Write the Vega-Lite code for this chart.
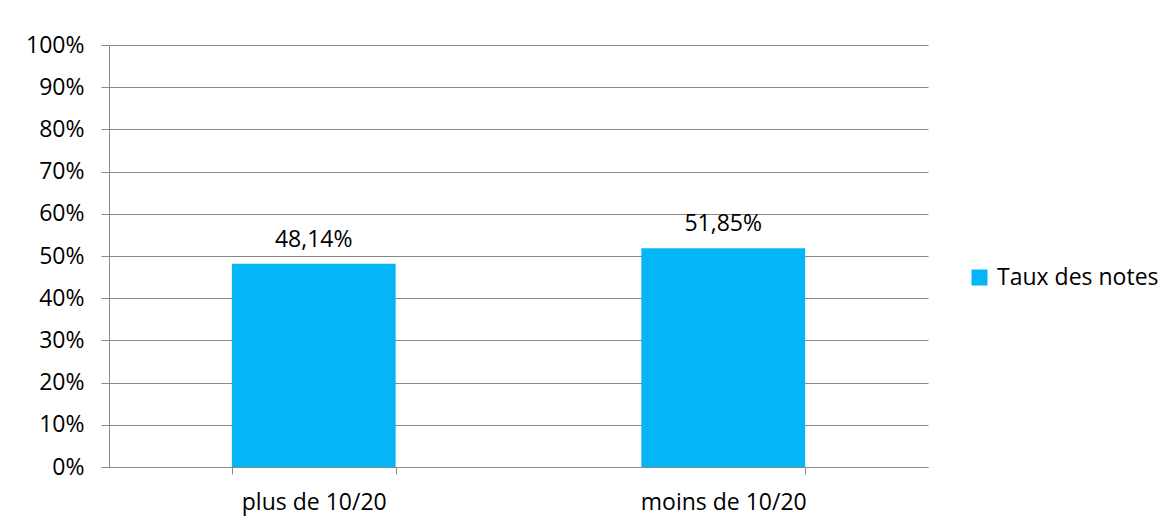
{
  "$schema": "https://vega.github.io/schema/vega-lite/v6.json",
  "width": 819,
  "height": 422,
  "autosize": {"type": "none"},
  "padding": {"left": 109, "top": 45, "right": 239, "bottom": 58},
  "background": "white",
  "data": {
    "values": [
      {"categorie": "plus de 10/20", "taux": 0.4814, "serie": "Taux des notes"},
      {"categorie": "moins de 10/20", "taux": 0.5185, "serie": "Taux des notes"}
    ]
  },
  "encoding": {
    "x": {
      "field": "categorie",
      "type": "nominal",
      "sort": null,
      "scale": {"paddingInner": 0.6, "paddingOuter": 0.3},
      "axis": {
        "title": null,
        "labelAngle": 0,
        "tickBand": "extent",
        "tickSize": 7,
        "labelPadding": 17,
        "domainColor": "#888888",
        "tickColor": "#888888"
      }
    },
    "y": {
      "field": "taux",
      "type": "quantitative",
      "scale": {"domain": [0, 1]},
      "axis": {
        "title": null,
        "format": ".0%",
        "values": [0, 0.1, 0.2, 0.3, 0.4, 0.5, 0.6, 0.7, 0.8, 0.9, 1],
        "tickSize": 8,
        "labelPadding": 17,
        "grid": true,
        "gridColor": "#888888",
        "domainColor": "#888888",
        "tickColor": "#888888"
      }
    }
  },
  "layer": [
    {
      "mark": {"type": "bar", "color": "#04B6F5"},
      "encoding": {
        "color": {
          "field": "serie",
          "type": "nominal",
          "scale": {"range": ["#04B6F5"]},
          "legend": {
            "title": null,
            "orient": "none",
            "legendX": 859,
            "legendY": 221,
            "symbolType": "square",
            "symbolSize": 256,
            "symbolStrokeWidth": 0,
            "labelOffset": 6,
            "labelLimit": 400
          }
        }
      }
    },
    {
      "mark": {"type": "text", "baseline": "alphabetic", "dy": -17, "color": "black"},
      "encoding": {
        "text": {"field": "taux", "type": "quantitative", "format": ".2%"}
      }
    }
  ],
  "config": {
    "locale": {
      "number": {"decimal": ",", "thousands": " ", "grouping": [3], "currency": ["", " €"]}
    },
    "font": "Open Sans",
    "view": {"stroke": null},
    "axis": {"labelFont": "Open Sans", "labelFontSize": 23, "labelColor": "black"},
    "legend": {"labelFont": "Open Sans", "labelFontSize": 23, "labelColor": "black"},
    "text": {"font": "Open Sans", "fontSize": 23}
  }
}
